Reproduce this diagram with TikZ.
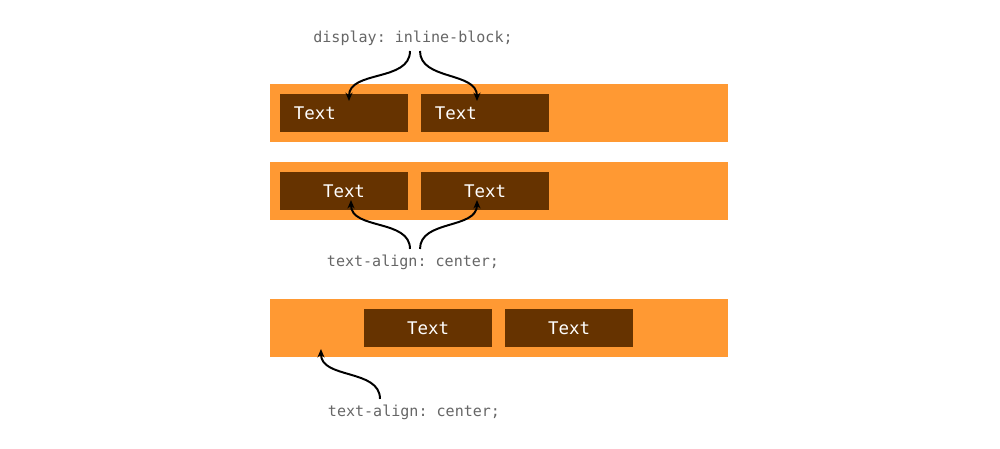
\documentclass[tikz,border=0pt]{standalone}
\usepackage{fontspec}
\setmonofont{DejaVu Sans Mono}
\usetikzlibrary{arrows.meta}
\tikzset{
every picture/.style={
line width=1.4pt
}}
\definecolor{barorange}{HTML}{FF9933}
\definecolor{boxbrown}{HTML}{663300}
\definecolor{labelgray}{HTML}{666666}

\begin{document}
\begin{tikzpicture}[x=0.025cm, y=-0.025cm,
bar/.style = {rectangle, fill=barorange, minimum width=11.45cm, minimum height=1.45cm, inner sep=0pt},
inline/.style = {rectangle, fill=boxbrown, text=white, font=\ttfamily\fontsize{12.4}{14}\selectfont, minimum width=3.2cm, minimum height=0.95cm, inner sep=0pt},
leftbox/.style = {inline, text width=2.5cm, align=left, inner xsep=0.35cm},
css/.style = {text=labelgray, font=\ttfamily\fontsize{10.7}{13}\selectfont},
curve/.style = {-{Stealth[length=6pt, width=5pt]}}]
\useasboundingbox (0,0) rectangle (1000,448);
\node[bar] at (499,113) (bar1) {};
\node[bar] at (499,191) (bar2) {};
\node[bar] at (499,328) (bar3) {};
\node[leftbox] at (344,113) (a1) {Text};
\node[leftbox] at (485,113) (a2) {Text};
\node[inline] at (344,191) (b1) {Text};
\node[inline] at (485,191) (b2) {Text};
\node[inline] at (428,328) (c1) {Text};
\node[inline] at (569,328) (c2) {Text};
\node[css] at (413,38) (disp) {display: inline-block;};
\node[css] at (413,262) (align1) {text-align: center;};
\node[css] at (414,412) (align2) {text-align: center;};
% tips sit inside the boxes
\coordinate (tipa1) at ([xshift=70*0.025cm, yshift=-8*0.025cm]a1.north west);
\coordinate (tipa2) at ([xshift=57*0.025cm, yshift=-8*0.025cm]a2.north west);
\coordinate (tipb1) at ([xshift=72*0.025cm, yshift=11*0.025cm]b1.south west);
\coordinate (tipb2) at ([xshift=57*0.025cm, yshift=11*0.025cm]b2.south west);
\coordinate (tipc) at ([xshift=52*0.025cm, yshift=9*0.025cm]bar3.south west);
\draw [curve] ([xshift=-3*0.025cm]disp.south) to[out=-90, in=90] (tipa1);
\draw [curve] ([xshift=7*0.025cm]disp.south) to[out=-90, in=90] (tipa2);
\draw [curve] ([xshift=-3*0.025cm]align1.north) to[out=90, in=-90] (tipb1);
\draw [curve] ([xshift=7*0.025cm]align1.north) to[out=90, in=-90] (tipb2);
\draw [curve] ([xshift=-34*0.025cm]align2.north) to[out=90, in=-90] (tipc);

\end{tikzpicture}
\end{document}
